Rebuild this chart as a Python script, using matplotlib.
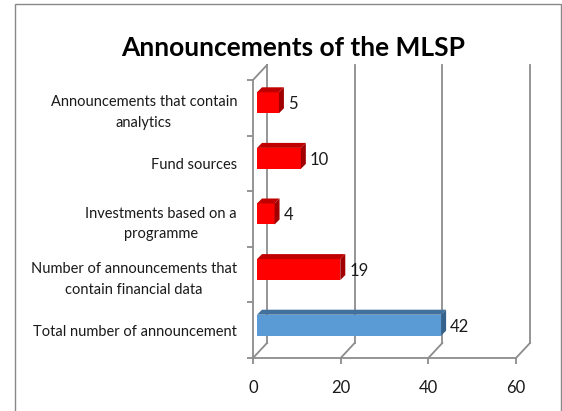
import matplotlib
matplotlib.use("Agg")
import matplotlib.pyplot as plt
from matplotlib.patches import Polygon, Rectangle

plt.rcParams['font.family'] = ['Lato', 'DejaVu Sans']

# data (bottom to top)
categories = ['Total number of announcement',
              'Number of announcements that\ncontain financial data',
              'Investments based on a\nprogramme',
              'Fund sources',
              'Announcements that contain\nanalytics']
values = [42, 19, 4, 10, 5]
front_colors = ['#5B9BD5', '#FF0000', '#FF0000', '#FF0000', '#FF0000']
top_colors = ['#41719C', '#C00000', '#C00000', '#C00000', '#C00000']
side_colors = ['#35628C', '#A00000', '#A00000', '#A00000', '#A00000']
xticks = [0, 20, 40, 60]

W, H = 562, 411
fig = plt.figure(figsize=(W / 100, H / 100), dpi=100)

# front plot area in pixels
x0_px, x1_px = 253, 516
ytop_px, ybot_px = 80, 358
ax = fig.add_axes([x0_px / W, (H - ybot_px) / H,
                   (x1_px - x0_px) / W, (ybot_px - ytop_px) / H])
ax.set_xlim(0, 60)
ax.set_ylim(-0.5, 4.5)
for s in ax.spines.values():
    s.set_visible(False)

PX = 60 / (x1_px - x0_px)       # data units per pixel (x)
PY = 5 / (ybot_px - ytop_px)    # data units per pixel (y)
grid_c = '#8c8c8c'
lw = 1.3
txt_c = '#1a1a1a'

# wall / floor depth offset
dx, dy = 14 * PX, 15 * PY
ymin, ymax = -0.5, 4.5

# back wall gridlines + floor diagonals
for xv in xticks:
    ax.plot([xv + dx, xv + dx], [ymin + dy, ymax + dy], color=grid_c, lw=lw, clip_on=False)
    ax.plot([xv, xv + dx], [ymin, ymin + dy], color=grid_c, lw=lw, clip_on=False)
# left wall front edge and top diagonal
ax.plot([0, 0], [ymin, ymax], color=grid_c, lw=lw, clip_on=False)
ax.plot([0, dx], [ymax, ymax + dy], color=grid_c, lw=lw, clip_on=False)
# front bottom axis
ax.plot([0, 60], [ymin, ymin], color=grid_c, lw=lw, clip_on=False)

# bars
bx, by = 4 * PX, 5 * PY          # front face offset
bdx, bdy = 5 * PX, 5 * PY        # bar depth
bh = 21 * PY
for i, v in enumerate(values):
    yb = i + by - bh / 2
    yt = yb + bh
    ax.barh(i + by, v, left=bx, height=bh, color=front_colors[i], lw=0, zorder=3)
    ax.add_patch(Polygon([(bx, yt), (bx + v, yt), (bx + v + bdx, yt + bdy), (bx + bdx, yt + bdy)],
                         closed=True, fc=top_colors[i], lw=0, zorder=3))
    ax.add_patch(Polygon([(bx + v, yb), (bx + v + bdx, yb + bdy), (bx + v + bdx, yt + bdy), (bx + v, yt)],
                         closed=True, fc=side_colors[i], lw=0, zorder=3))
    ax.text(bx + v + bdx + 4 * PX, i + by - 1.5 * PY, str(v), ha='left', va='center',
            fontsize=12, color=txt_c, zorder=4)

# ticks
ax.set_xticks(xticks)
ax.set_xticklabels([str(t) for t in xticks], fontsize=12, color=txt_c)
ax.tick_params(axis='x', length=4, width=lw, color=grid_c, pad=12)
ax.set_yticks(range(len(categories)))
ax.set_yticklabels(categories, fontsize=10.5, color=txt_c, ha='right',
                   multialignment='center', linespacing=1.6)
ax.tick_params(axis='y', which='major', length=0, pad=11.5)
ax.set_yticks([k - 0.5 for k in range(len(categories) + 1)], minor=True)
ax.tick_params(axis='y', which='minor', length=4, width=lw, color=grid_c)

fig.text(293 / W, 1 - 48 / H, 'Announcements of the MLSP', ha='center', va='center',
         fontsize=19, fontweight='bold', color='black')

# outer border
fig.patches.append(Rectangle((15 / W, -0.05), 546 / W, 1 - 4 / H + 0.05,
                             transform=fig.transFigure, fill=False,
                             ec='#888888', lw=1))

fig.savefig('out.png', dpi=100)
